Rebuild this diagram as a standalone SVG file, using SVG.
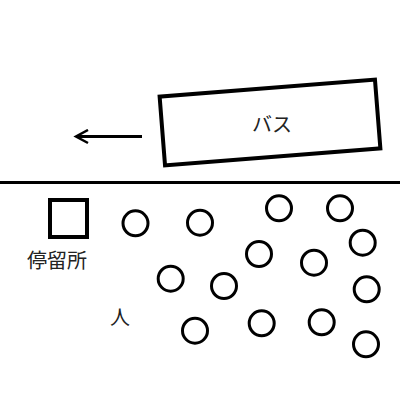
<svg xmlns="http://www.w3.org/2000/svg" width="400" height="400" viewBox="0 0 400 400">
<style>
.s{fill:none;stroke:#000;stroke-width:3}
.b{fill:none;stroke:#000;stroke-width:4}
.p{fill:none;stroke:#000;stroke-width:3}
.t{font-family:"Noto Sans CJK JP","Noto Sans",sans-serif;font-size:20px;fill:#222;text-anchor:middle}
</style>
<defs>
<marker id="ah" markerWidth="16" markerHeight="16" refX="13" refY="8" orient="auto" markerUnits="userSpaceOnUse">
<path d="M1,1.5 L13,8 L1,14.5" fill="none" stroke="#000" stroke-width="2.5"/>
</marker>
</defs>
<rect width="400" height="400" fill="#fff"/>
<g id="ground"><line x1="0" y1="182.5" x2="400" y2="182.5" class="s"/></g>
<g id="bus">
<rect x="162" y="88" width="216" height="69" class="b" transform="rotate(-4.5 270 122.5)"/>
<text x="272" y="132" class="t">バス</text>
</g>
<g id="connectors">
<line x1="142" y1="136.5" x2="76" y2="136.5" stroke="#000" stroke-width="3" marker-end="url(#ah)"/>
</g>
<g id="stop">
<rect x="50" y="200" width="37" height="37" class="b"/>
<text x="57" y="268" class="t">停留所</text>
</g>
<g id="person-label"><text x="120" y="325" class="t">人</text></g>
<g id="people">
<circle cx="135.5" cy="223.3" r="12.5" class="p"/>
<circle cx="200" cy="222.7" r="12.5" class="p"/>
<circle cx="279" cy="208.3" r="12.5" class="p"/>
<circle cx="340" cy="208.3" r="12.5" class="p"/>
<circle cx="362.7" cy="242.7" r="12.5" class="p"/>
<circle cx="259" cy="254" r="12.5" class="p"/>
<circle cx="314" cy="262.7" r="12.5" class="p"/>
<circle cx="170.7" cy="278.7" r="12.5" class="p"/>
<circle cx="224" cy="286" r="12.5" class="p"/>
<circle cx="366.7" cy="289.3" r="12.5" class="p"/>
<circle cx="195" cy="330.7" r="12.5" class="p"/>
<circle cx="261.7" cy="323.3" r="12.5" class="p"/>
<circle cx="321.7" cy="322.3" r="12.5" class="p"/>
<circle cx="366" cy="344.3" r="12.5" class="p"/>
</g>
</svg>
